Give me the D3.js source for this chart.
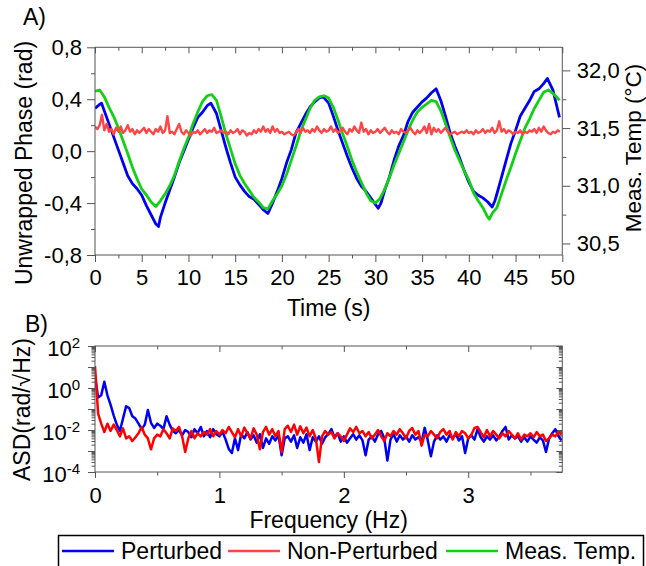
<!DOCTYPE html>
<html>
<head>
<meta charset="utf-8">
<script src="https://d3js.org/d3.v7.min.js"></script>
<style>
  html, body { margin: 0; padding: 0; background: #fff; }
  svg { display: block; font-family: "Liberation Sans", Arial, sans-serif; }
</style>
</head>
<body>
<div id="chart"></div>
<script>
// ---- A) time domain ----
const perturbedTime = [0, 0.5, 0.7, 1, 1.5, 2, 2.5, 3, 3.5, 4, 4.5, 5, 5.5, 6, 6.5, 6.8, 7, 7.5, 8, 8.5, 9, 9.5, 10, 10.5, 11, 11.5, 12, 12.4, 13, 13.5, 14, 14.5, 15, 15.5, 16, 16.5, 17, 17.5, 18, 18.5, 19, 19.5, 20, 20.5, 21, 21.5, 22, 22.5, 23, 23.5, 24, 24.4, 25, 25.5, 26, 26.5, 27, 27.5, 28, 28.5, 29, 29.5, 30, 30.3, 30.6, 31, 31.5, 32, 32.5, 33, 33.5, 34, 34.5, 35, 35.5, 36, 36.5, 37, 37.5, 38, 38.5, 39, 39.5, 40, 40.5, 41, 41.5, 42, 42.5, 42.8, 43, 43.5, 44, 44.5, 45, 45.5, 46, 46.5, 47, 47.5, 48, 48.4, 49, 49.4, 49.7];
const perturbedPhase = [0.33, 0.36, 0.37, 0.31, 0.21, 0.11, 0.01, -0.09, -0.19, -0.25, -0.29, -0.34, -0.42, -0.49, -0.56, -0.58, -0.51, -0.40, -0.30, -0.20, -0.09, 0.00, 0.09, 0.18, 0.26, 0.30, 0.35, 0.37, 0.29, 0.16, 0.03, -0.09, -0.20, -0.26, -0.31, -0.35, -0.37, -0.41, -0.45, -0.48, -0.40, -0.31, -0.21, -0.09, 0.01, 0.14, 0.21, 0.28, 0.34, 0.38, 0.41, 0.42, 0.37, 0.27, 0.16, 0.06, -0.04, -0.13, -0.21, -0.27, -0.31, -0.36, -0.41, -0.44, -0.40, -0.30, -0.20, -0.07, 0.04, 0.12, 0.23, 0.30, 0.34, 0.38, 0.41, 0.45, 0.48, 0.39, 0.27, 0.14, 0.04, -0.05, -0.15, -0.24, -0.31, -0.34, -0.36, -0.39, -0.43, -0.38, -0.33, -0.20, -0.07, 0.06, 0.16, 0.27, 0.33, 0.39, 0.46, 0.48, 0.52, 0.56, 0.47, 0.35, 0.26];

const tempTime = [0, 0.5, 1, 1.5, 2, 2.5, 3, 3.5, 4, 4.5, 5, 5.5, 6, 6.5, 7, 7.5, 8, 8.5, 9, 9.5, 10, 10.5, 11, 11.5, 12, 12.5, 13, 13.5, 14, 14.5, 15, 15.5, 16, 16.5, 17, 17.5, 18, 18.5, 19, 19.5, 20, 20.5, 21, 21.5, 22, 22.5, 23, 23.5, 24, 24.5, 25, 25.5, 26, 26.5, 27, 27.5, 28, 28.5, 29, 29.5, 30, 30.5, 31, 31.5, 32, 32.5, 33, 33.5, 34, 34.5, 35, 35.5, 36, 36.5, 37, 37.5, 38, 38.5, 39, 39.5, 40, 40.5, 41, 41.5, 42, 42.2, 42.5, 43, 43.5, 44, 44.5, 45, 45.5, 46, 46.5, 47, 47.5, 48, 48.5, 49, 49.5, 49.7];
const measTemp = [31.82, 31.83, 31.77, 31.68, 31.60, 31.50, 31.39, 31.28, 31.16, 31.06, 30.97, 30.92, 30.86, 30.82, 30.87, 30.93, 31.00, 31.09, 31.21, 31.32, 31.42, 31.54, 31.64, 31.73, 31.78, 31.79, 31.74, 31.60, 31.45, 31.32, 31.19, 31.09, 31.02, 30.96, 30.90, 30.86, 30.81, 30.80, 30.87, 30.93, 31.00, 31.10, 31.22, 31.34, 31.47, 31.57, 31.67, 31.74, 31.77, 31.78, 31.76, 31.68, 31.57, 31.45, 31.34, 31.22, 31.12, 31.03, 30.94, 30.87, 30.85, 30.89, 30.97, 31.07, 31.18, 31.28, 31.38, 31.48, 31.57, 31.64, 31.68, 31.71, 31.74, 31.73, 31.65, 31.54, 31.42, 31.31, 31.22, 31.13, 31.05, 30.94, 30.87, 30.81, 30.73, 30.71, 30.76, 30.81, 30.93, 31.05, 31.16, 31.28, 31.39, 31.50, 31.58, 31.67, 31.74, 31.81, 31.83, 31.80, 31.76, 31.74];

// non-perturbed phase, sampled every 0.25 s
const nonPerturbedDt = 0.25;
const nonPerturbedPhase = [
  0.19, 0.17, 0.20, 0.28, 0.16, 0.21, 0.15, 0.17, 0.13, 0.18, 0.15, 0.19, 0.14, 0.16, 0.20, 0.15, 0.17, 0.13, 0.16, 0.14,
  0.16, 0.18, 0.14, 0.17, 0.15, 0.13, 0.17, 0.15, 0.19, 0.14, 0.16, 0.27, 0.14, 0.15, 0.13, 0.17, 0.21, 0.15, 0.13, 0.16,
  0.14, 0.12, 0.15, 0.14, 0.16, 0.13, 0.15, 0.17, 0.14, 0.16, 0.15, 0.18, 0.14, 0.15, 0.16, 0.14, 0.15, 0.13, 0.16, 0.14,
  0.15, 0.17, 0.13, 0.16, 0.15, 0.12, 0.14, 0.13, 0.16, 0.14, 0.17, 0.15, 0.19, 0.15, 0.17, 0.14, 0.19, 0.15, 0.17, 0.14,
  0.15, 0.13, 0.14, 0.15, 0.13, 0.12, 0.14, 0.17, 0.14, 0.18, 0.15, 0.16, 0.14, 0.17, 0.15, 0.19, 0.16, 0.14, 0.17, 0.15,
  0.16, 0.19, 0.15, 0.17, 0.14, 0.16, 0.18, 0.15, 0.13, 0.17, 0.15, 0.19, 0.16, 0.14, 0.22, 0.15, 0.17, 0.13, 0.16, 0.14,
  0.15, 0.17, 0.14, 0.16, 0.18, 0.15, 0.13, 0.16, 0.14, 0.15, 0.13, 0.17, 0.15, 0.14, 0.16, 0.18, 0.15, 0.13, 0.16, 0.14,
  0.16, 0.19, 0.14, 0.21, 0.13, 0.18, 0.15, 0.17, 0.14, 0.16, 0.18, 0.15, 0.13, 0.14, 0.15, 0.13, 0.14, 0.15, 0.14, 0.16,
  0.14, 0.15, 0.13, 0.16, 0.14, 0.15, 0.17, 0.14, 0.16, 0.15, 0.18, 0.14, 0.16, 0.23, 0.15, 0.17, 0.14, 0.16, 0.15, 0.13,
  0.15, 0.14, 0.16, 0.13, 0.15, 0.14, 0.16, 0.15, 0.17, 0.14, 0.18, 0.15, 0.19, 0.16, 0.14, 0.13, 0.15, 0.14, 0.16, 0.15
];

// ---- B) spectra, bins every 0.025 Hz ----
const freqStep = 0.025;
const perturbedAsd = [
  4.0, 0.35, 0.45, 2.0, 0.45, 0.16, 0.05, 0.018, 0.009, 0.035,
  0.135, 0.11, 0.045, 0.035, 0.02, 0.011, 0.018, 0.09, 0.022, 0.0126,
  0.02, 0.016, 0.011, 0.045, 0.018, 0.009, 0.007, 0.01, 0.0056, 0.01,
  0.008, 0.0045, 0.011, 0.007, 0.014, 0.005, 0.009, 0.0045, 0.011, 0.0063,
  0.005, 0.008, 0.0035, 0.00126, 0.0008, 0.004, 0.0011, 0.0063, 0.004, 0.008,
  0.0035, 0.0056, 0.0025, 0.0063, 0.0014, 0.004, 0.0022, 0.005, 0.0032, 0.0056,
  0.00063, 0.004, 0.005, 0.0028, 0.0056, 0.0014, 0.0045, 0.0025, 0.0063, 0.0011,
  0.0045, 0.0028, 0.005, 0.0022, 0.0045, 0.0063, 0.011, 0.0045, 0.007, 0.0028,
  0.005, 0.0025, 0.004, 0.0063, 0.0035, 0.0056, 0.0032, 0.00063, 0.0035, 0.005,
  0.0028, 0.0063, 0.009, 0.004, 0.00035, 0.0035, 0.0063, 0.0028, 0.0056, 0.0035,
  0.005, 0.0028, 0.0056, 0.0035, 0.0045, 0.0028, 0.0126, 0.0032, 0.00056, 0.0028,
  0.0056, 0.0035, 0.005, 0.0028, 0.0056, 0.004, 0.0063, 0.0032, 0.005, 0.0008,
  0.004, 0.0056, 0.0035, 0.011, 0.0045, 0.0028, 0.005, 0.0035, 0.0056, 0.0032,
  0.005, 0.009, 0.014, 0.0035, 0.0056, 0.004, 0.005, 0.0028, 0.0045, 0.0028,
  0.005, 0.0035, 0.0025, 0.0045, 0.0032, 0.0009, 0.004, 0.007, 0.011, 0.005,
  0.0032
];
const nonPerturbedAsd = [
  11, 0.06, 0.02, 0.008, 0.02, 0.009, 0.018, 0.01, 0.005, 0.012,
  0.004, 0.005, 0.003, 0.0045, 0.007, 0.014, 0.006, 0.004, 0.0012, 0.004,
  0.006, 0.005, 0.011, 0.007, 0.004, 0.012, 0.009, 0.014, 0.005, 0.0009,
  0.004, 0.009, 0.004, 0.007, 0.005, 0.008, 0.006, 0.011, 0.005, 0.009,
  0.006, 0.01, 0.007, 0.014, 0.008, 0.0045, 0.011, 0.005, 0.013, 0.007,
  0.004, 0.012, 0.006, 0.0012, 0.008, 0.014, 0.006, 0.011, 0.005, 0.009,
  0.0009, 0.011, 0.016, 0.008, 0.018, 0.006, 0.015, 0.007, 0.013, 0.005,
  0.01, 0.004, 0.0003, 0.005, 0.009, 0.006, 0.008, 0.004, 0.007, 0.005,
  0.003, 0.006, 0.012, 0.008, 0.014, 0.007, 0.009, 0.005, 0.008, 0.004,
  0.006, 0.01, 0.005, 0.003, 0.007, 0.005, 0.009, 0.006, 0.011, 0.007,
  0.004, 0.009, 0.0125, 0.006, 0.009, 0.0018, 0.006, 0.005, 0.009, 0.006,
  0.004, 0.008, 0.011, 0.006, 0.009, 0.0035, 0.008, 0.005, 0.009, 0.007,
  0.004, 0.006, 0.0125, 0.014, 0.008, 0.0045, 0.01, 0.005, 0.009, 0.006,
  0.004, 0.007, 0.005, 0.009, 0.006, 0.004, 0.007, 0.0035, 0.006, 0.005,
  0.007, 0.0045, 0.008, 0.005, 0.006, 0.003, 0.004, 0.006, 0.005, 0.008,
  0.006
];

// ---- axes / labels ----
const timeTicks = [0, 5, 10, 15, 20, 25, 30, 35, 40, 45, 50];
const phaseTicks = [-0.8, -0.4, 0, 0.4, 0.8];
const tempTicks = [30.5, 31.0, 31.5, 32.0];
const freqTicks = [0, 1, 2, 3];
const asdDecades = [-4, -3, -2, -1, 0, 1, 2];
const seriesNames = ["Perturbed", "Non-Perturbed", "Meas. Temp."];
const seriesColors = ["#0000f0", "#ff4545", "#14d014"];
const asdRedColor = "#ff0000";

(function (d3) {
  "use strict";

  const W = 646, H = 566;
  const FONT_TICK = 22, FONT_TITLE = 23;
  const AXIS_COLOR = "#555";

  const commaLocale = d3.formatLocale({ decimal: ",", thousands: ".", grouping: [3], currency: ["", ""], minus: "-" });
  const fmt1 = commaLocale.format(".1f");

  const svg = d3.select("#chart").append("svg").attr("width", W).attr("height", H);

  /**
   * Style an axis group: hide domain, set colors and fonts.
   */
  function styleAxis(g, fontSize) {
    g.select(".domain").remove();
    g.selectAll(".tick line").attr("stroke", AXIS_COLOR).attr("stroke-width", 1);
    g.selectAll(".tick text").attr("fill", "#000").style("font-size", fontSize + "px")
      .style("font-family", "'Liberation Sans', Arial, sans-serif");
    return g;
  }

  /**
   * Draw a set of ticks through an axis generator.
   */
  function ticks(axisFn, scale, values, size, padding, format, transform) {
    const ax = axisFn(scale).tickValues(values).tickSize(size).tickSizeOuter(0)
      .tickPadding(padding).tickFormat(format || "");
    return styleAxis(svg.append("g").attr("transform", transform).call(ax), FONT_TICK);
  }

  // ================= Panel A =================
  const A = { left: 95, right: 562.3, top: 47.3, bottom: 255 };
  const xA = d3.scaleLinear().domain([0, 50]).range([A.left, A.right]);
  const yPhase = d3.scaleLinear().domain([-0.8, 0.8]).range([A.bottom, A.top]);
  const yTemp = d3.scaleLinear().domain([30.4, 32.2]).range([A.bottom, A.top]);

  const minorTime = d3.range(2.5, 50, 5);
  const minorPhase = [-0.6, -0.2, 0.2, 0.6];
  const minorTemp = [30.75, 31.25, 31.75];

  ticks(d3.axisBottom, xA, timeTicks, 7, 7, d3.format("d"), `translate(0,${A.bottom})`);
  ticks(d3.axisBottom, xA, minorTime, 3.5, 0, null, `translate(0,${A.bottom})`);
  ticks(d3.axisTop, xA, timeTicks, -6, 0, null, `translate(0,${A.top})`);
  ticks(d3.axisTop, xA, minorTime, -3.5, 0, null, `translate(0,${A.top})`);
  ticks(d3.axisLeft, yPhase, phaseTicks, 8, 5, fmt1, `translate(${A.left},0)`);
  ticks(d3.axisLeft, yPhase, minorPhase, 4, 0, null, `translate(${A.left},0)`);
  ticks(d3.axisRight, yTemp, tempTicks, 8, 6.5, fmt1, `translate(${A.right},0)`);
  ticks(d3.axisRight, yTemp, minorTemp, 4, 0, null, `translate(${A.right},0)`);

  svg.append("clipPath").attr("id", "clipA").append("rect")
    .attr("x", A.left).attr("y", A.top).attr("width", A.right - A.left).attr("height", A.bottom - A.top);

  const gA = svg.append("g").attr("clip-path", "url(#clipA)");

  const linePhase = d3.line().x(d => xA(d[0])).y(d => yPhase(d[1]));
  const lineTemp = d3.line().x(d => xA(d[0])).y(d => yTemp(d[1]));

  gA.append("path").datum(d3.zip(perturbedTime, perturbedPhase))
    .attr("fill", "none").attr("stroke", seriesColors[0]).attr("stroke-width", 2.8)
    .attr("stroke-linejoin", "round").attr("d", linePhase);
  gA.append("path").datum(d3.zip(tempTime, measTemp))
    .attr("fill", "none").attr("stroke", seriesColors[2]).attr("stroke-width", 2.8)
    .attr("stroke-linejoin", "round").attr("d", lineTemp);
  gA.append("path").datum(nonPerturbedPhase.map((v, i) => [i * nonPerturbedDt, v]))
    .attr("fill", "none").attr("stroke", seriesColors[1]).attr("stroke-width", 2.4)
    .attr("stroke-linejoin", "round").attr("d", linePhase);

  svg.append("rect").attr("x", A.left).attr("y", A.top)
    .attr("width", A.right - A.left).attr("height", A.bottom - A.top)
    .attr("fill", "none").attr("stroke", AXIS_COLOR).attr("stroke-width", 1);

  // titles
  svg.append("text").attr("x", 23).attr("y", 25).style("font-size", FONT_TITLE + "px").text("A)");
  svg.append("text").attr("x", (A.left + A.right) / 2).attr("y", 316).attr("text-anchor", "middle")
    .style("font-size", FONT_TITLE + "px").text("Time (s)");
  svg.append("text").attr("transform", "translate(31.5,163) rotate(-90)").attr("text-anchor", "middle")
    .style("font-size", FONT_TITLE + "px").text("Unwrapped Phase (rad)");
  svg.append("text").attr("transform", "translate(640.5,148) rotate(-90)").attr("text-anchor", "middle")
    .style("font-size", "22.5px").text("Meas. Temp (°C)");

  // ================= Panel B =================
  const B = { left: 95, right: 562.3, top: 346, bottom: 472 };
  const xB = d3.scaleLinear().domain([0, 3.756]).range([B.left, B.right]);
  const yAsd = d3.scaleLog().domain([1e-4, 1e2]).range([B.bottom, B.top]);

  const majorAsd = asdDecades.map(k => Math.pow(10, k));
  const minorAsd = [];
  asdDecades.slice(0, -1).forEach(k => {
    for (let m = 2; m <= 9; m++) minorAsd.push(m * Math.pow(10, k));
  });
  const minorFreq = [0.5, 1.5, 2.5, 3.5];

  ticks(d3.axisBottom, xB, freqTicks, 6, 9, d3.format("d"), `translate(0,${B.bottom})`);
  ticks(d3.axisBottom, xB, minorFreq, 3.5, 0, null, `translate(0,${B.bottom})`);
  ticks(d3.axisTop, xB, freqTicks, -6, 0, null, `translate(0,${B.top})`);
  ticks(d3.axisTop, xB, minorFreq, -3.5, 0, null, `translate(0,${B.top})`);
  const asdLeft = ticks(d3.axisLeft, yAsd, majorAsd, 7, 8, null, `translate(${B.left},0)`);
  ticks(d3.axisLeft, yAsd, minorAsd, 3.5, 0, null, `translate(${B.left},0)`);
  ticks(d3.axisRight, yAsd, majorAsd, -6, 0, null, `translate(${B.right},0)`);
  ticks(d3.axisRight, yAsd, minorAsd, -3.5, 0, null, `translate(${B.right},0)`);

  // 10^k labels on even decades
  asdLeft.selectAll(".tick text").each(function (d) {
    const k = Math.round(Math.log10(d));
    const t = d3.select(this).attr("dy", null).attr("y", 9.7);
    if (k % 2 !== 0) return;
    t.append("tspan").text("10");
    t.append("tspan").attr("dy", -8).style("font-size", "15px").text(String(k));
  });

  svg.append("clipPath").attr("id", "clipB").append("rect")
    .attr("x", B.left).attr("y", B.top).attr("width", B.right - B.left).attr("height", B.bottom - B.top);
  const gB = svg.append("g").attr("clip-path", "url(#clipB)");

  const lineAsd = d3.line().x(d => xB(d[0])).y(d => yAsd(d[1]));
  gB.append("path").datum(perturbedAsd.map((v, i) => [i * freqStep, v]))
    .attr("fill", "none").attr("stroke", seriesColors[0]).attr("stroke-width", 2.5)
    .attr("stroke-linejoin", "round").attr("d", lineAsd);
  gB.append("path").datum(nonPerturbedAsd.map((v, i) => [i * freqStep, v]))
    .attr("fill", "none").attr("stroke", asdRedColor).attr("stroke-width", 2.5)
    .attr("stroke-linejoin", "round").attr("d", lineAsd);

  svg.append("rect").attr("x", B.left).attr("y", B.top)
    .attr("width", B.right - B.left).attr("height", B.bottom - B.top)
    .attr("fill", "none").attr("stroke", AXIS_COLOR).attr("stroke-width", 1);

  svg.append("text").attr("x", 25).attr("y", 332).style("font-size", FONT_TITLE + "px").text("B)");
  svg.append("text").attr("x", (B.left + B.right) / 2).attr("y", 528).attr("text-anchor", "middle")
    .style("font-size", FONT_TITLE + "px").text("Frequency (Hz)");
  svg.append("text").attr("transform", "translate(29.5,409.5) rotate(-90)").attr("text-anchor", "middle")
    .style("font-size", FONT_TITLE + "px").text("ASD(rad/√Hz)");

  // ================= Legend =================
  svg.append("rect").attr("x", 58.5).attr("y", 535.5).attr("width", 585).attr("height", 50)
    .attr("fill", "none").attr("stroke", "#000").attr("stroke-width", 1.5);
  const legendX = [62, 228, 446];
  seriesNames.forEach((name, i) => {
    const g = svg.append("g").attr("transform", `translate(${legendX[i]},0)`);
    g.append("line").attr("x1", 0).attr("x2", 52).attr("y1", 551).attr("y2", 551)
      .attr("stroke", seriesColors[i]).attr("stroke-width", 2.6);
    g.append("text").attr("x", 59).attr("y", 559).style("font-size", "23px").text(name);
  });
})(d3);
</script>
</body>
</html>
